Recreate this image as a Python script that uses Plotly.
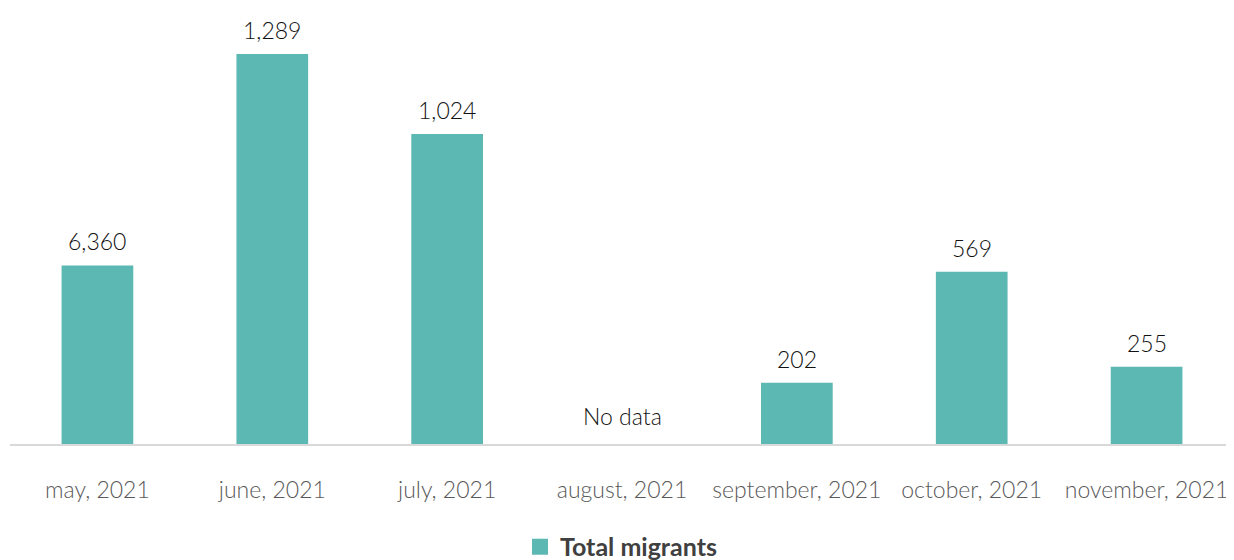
import plotly.graph_objects as go

months = ["may, 2021", "june, 2021", "july, 2021", "august, 2021",
          "september, 2021", "october, 2021", "november, 2021"]
bar_values = [590, 1289, 1024, None, 202, 569, 255]
bar_labels = ["6,360", "1,289", "1,024", "", "202", "569", "255"]
missing_label = "No data"
series_name = "Total migrants"

bar_color = "#5cb8b2"
label_font = dict(family="Lato", size=23, color="#111111", weight=300)

fig = go.Figure()
fig.add_trace(go.Bar(
    x=months, y=bar_values, name=series_name, legendgroup="tm",
    marker=dict(color=bar_color, line=dict(width=0)),
    width=0.41, showlegend=False,
))
# legend entry with a larger square swatch
fig.add_trace(go.Scatter(
    x=[None], y=[None], mode="markers", name=series_name, legendgroup="tm",
    marker=dict(symbol="square", size=18, color=bar_color), showlegend=True,
))
for m, v, lab in zip(months, bar_values, bar_labels):
    if v is None:
        fig.add_annotation(x=m, y=0, text=missing_label, showarrow=False,
                           yanchor="bottom", yshift=12, font=label_font)
    else:
        fig.add_annotation(x=m, y=v, text=lab, showarrow=False,
                           yanchor="bottom", yshift=8, font=label_font)

fig.update_layout(
    width=1226, height=552,
    margin=dict(l=2, r=0, t=2, b=116, autoexpand=False),
    plot_bgcolor="white", paper_bgcolor="white",
    bargap=0.59,
    xaxis=dict(showline=True, linecolor="#d9d9d9", linewidth=2, automargin=False,
               tickfont=dict(family="Lato", size=23, color="#595959", weight=300),
               ticks="", ticklabelstandoff=24),
    yaxis=dict(range=[0, 1434], visible=False, showgrid=False, automargin=False),
    legend=dict(orientation="h", x=0.5, xanchor="center", xref="container",
                y=0.0236, yanchor="middle", yref="container", itemwidth=30,
                font=dict(family="Lato", size=25, color="#404040", weight=700)),
)
fig.write_html("out.html")
